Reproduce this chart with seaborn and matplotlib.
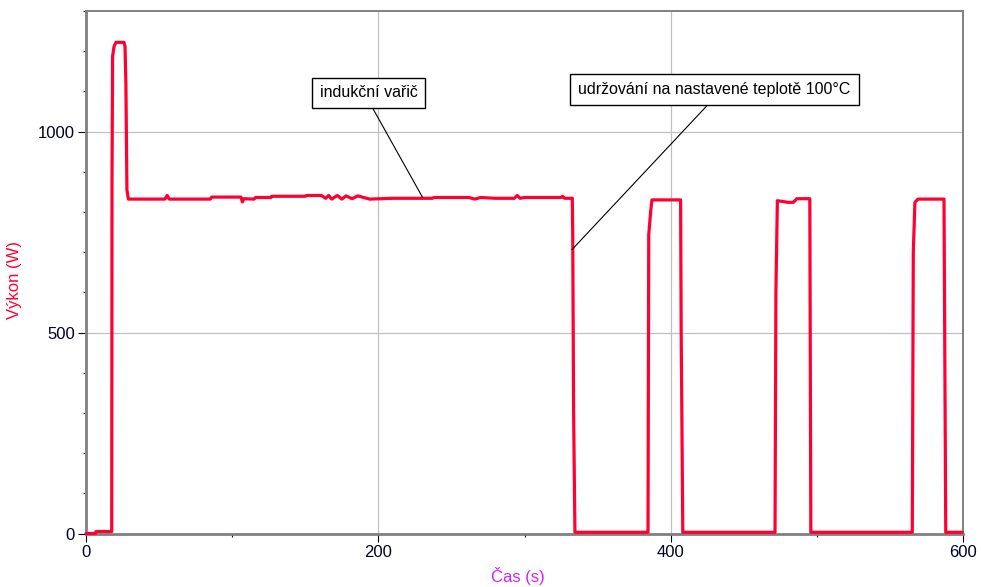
import matplotlib
matplotlib.use("Agg")
import matplotlib.pyplot as plt
from matplotlib.ticker import MultipleLocator
import seaborn as sns
import pandas as pd

# ---- data ----
time_s = [0, 6.5, 6.8, 17.6, 17.8, 18.2, 19.2, 20.5, 26, 26.7, 27.3, 28, 29,
          54, 55.5, 57, 85, 86, 106, 107, 108, 115, 116, 126.5, 127, 150, 151,
          161, 164, 166, 168, 172, 175, 178, 182, 186, 194, 210, 237, 238, 262,
          266, 270, 280, 293, 295, 297, 300, 325, 326, 327.5, 332.7, 333, 333.6,
          334.5, 384.5, 385, 386.3, 387.2, 406.8, 407.2, 408.3, 471.4, 472, 473,
          476.7, 480, 484, 486.3, 495.2, 495.9, 565.3, 566, 567.1, 569.2, 587,
          588.2, 599.5]
power_w = [0, 0, 5, 5, 880, 1187, 1212, 1222, 1222, 1212, 1117, 855, 832,
           832, 841, 832, 832, 837, 837, 825, 833, 832, 836, 836, 839, 839, 841,
           841, 834, 841, 832, 841, 832, 840, 833, 840, 832, 834, 834, 836, 836,
           832, 836, 834, 834, 841, 834, 836, 836, 839, 834, 834, 743, 300,
           3, 3, 743, 801, 830, 830, 500, 3, 3, 600, 828,
           826, 824, 824, 833, 833, 3, 3, 700, 824, 832, 832,
           3, 3]

x_ticks = [0, 200, 400, 600]
y_ticks = [0, 500, 1000]
x_label = "Čas (s)"
y_label = "Výkon (W)"

note1_text = "indukční vařič"
note1_box = (193.2, 1096)
note1_point = (230.3, 836)
note2_text = "udržování na nastavené teplotě 100°C"
note2_box = (430.1, 1103.5)
note2_point = (332.4, 706)

# ---- styling ----
sns.set_style("white")
plt.rcParams["font.family"] = ["Liberation Sans", "DejaVu Sans"]

LINE_RED = "#ff0033"
LABEL_MAG = "#cc22ff"
SPINE_GREY = "#808080"

fig = plt.figure(figsize=(9.81, 5.87), dpi=100)
ax = fig.add_axes([86 / 981, 1 - 533.5 / 587, 877 / 981, 522.5 / 587])

df = pd.DataFrame({"t": time_s, "P": power_w})
sns.lineplot(data=df, x="t", y="P", ax=ax, color=LINE_RED, linewidth=2.3,
             estimator=None, sort=False, zorder=4, clip_on=False)

ax.set_xlim(0, 600)
ax.set_ylim(0, 1300)
ax.set_xticks(x_ticks)
ax.set_yticks(y_ticks)
ax.xaxis.set_minor_locator(MultipleLocator(100))
ax.yaxis.set_minor_locator(MultipleLocator(100))

ax.grid(True, which="major", color="#c0c0c0", linewidth=0.9)
ax.set_axisbelow(True)

for side in ["left", "bottom"]:
    ax.spines[side].set_color(SPINE_GREY)
    ax.spines[side].set_linewidth(2.0)
for side in ["top", "right"]:
    ax.spines[side].set_color(SPINE_GREY)
    ax.spines[side].set_linewidth(1.4)
    ax.spines[side].set_visible(True)

ax.tick_params(axis="both", which="major", direction="out", length=6,
               width=0.8, color="black", labelsize=12, labelcolor="#000022",
               pad=2, left=True, bottom=True)
ax.tick_params(axis="both", which="minor", direction="out", length=2.5,
               width=0.8, color="black", left=True, bottom=True)

ax.set_xlabel(x_label, color=LABEL_MAG, fontsize=12)
ax.set_ylabel(y_label, color=LINE_RED, fontsize=12)
ax.xaxis.set_label_coords((518 - 86) / 877, -(576 - 533.5) / 522.5)
ax.yaxis.set_label_coords(-(86 - 22) / 877, (533.5 - 280) / 522.5)
ax.xaxis.label.set_verticalalignment("center")

box = dict(boxstyle="square,pad=0.5", fc="white", ec="black", lw=1.0)
arrow = dict(arrowstyle="-", color="black", lw=0.8, relpos=(0.5, 0.0),
             shrinkA=0, shrinkB=0)
ax.annotate(note1_text, xy=note1_point, xytext=note1_box, ha="center",
            va="center", fontsize=11.5, color="black", bbox=box,
            arrowprops=arrow, zorder=6)
ax.annotate(note2_text, xy=note2_point, xytext=note2_box, ha="center",
            va="center", fontsize=11.5, color="black", bbox=box,
            arrowprops=arrow, zorder=6)

fig.savefig("out.png", dpi=100)
